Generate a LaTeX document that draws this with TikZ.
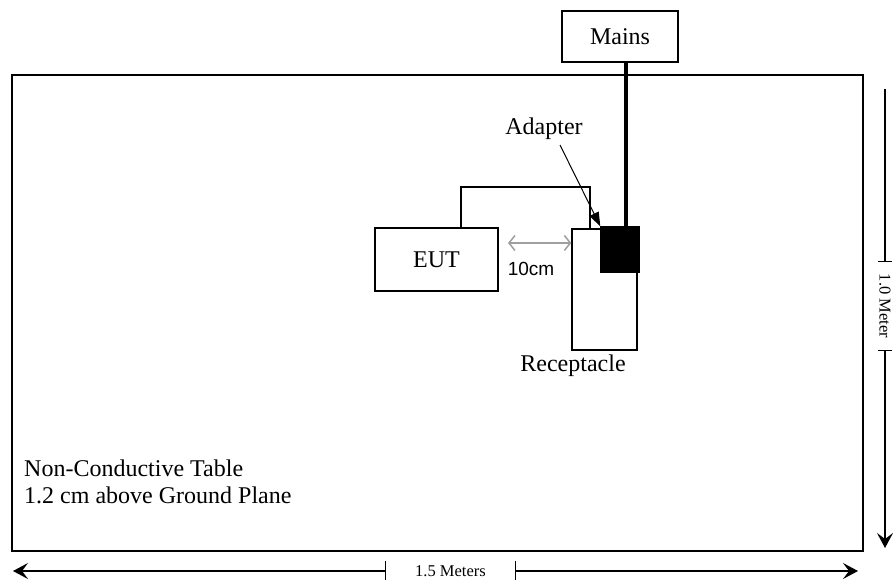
\documentclass[tikz,border=0pt]{standalone}
\usepackage{fontspec}
\setmainfont{Liberation Serif}
\newfontfamily\arialfont{Liberation Sans}
\usetikzlibrary{arrows.meta}
\begin{document}
\begin{tikzpicture}[x=1pt,y=-1pt,
  box/.style={draw,line width=1.4pt,rectangle,inner sep=0pt,font=\fontsize{24}{28}\selectfont},
  lbl/.style={inner sep=0pt,font=\fontsize{24}{27}\selectfont},
  dimlbl/.style={inner sep=0pt,font=\fontsize{16.5}{18}\selectfont},
  dimline/.style={line width=1.2pt},
  dimtip/.style={-{Stealth[length=15pt,width=16pt,inset=6pt]}}]
\useasboundingbox (0,0) rectangle (893,580);
% table and boxes
\node[box,line width=1.7pt,minimum width=851pt,minimum height=476pt] (table) at (437.5,313) {};
\node[box,minimum width=116pt,minimum height=51pt] (mains) at (620,36.5) {Mains};
\node[box,minimum width=123pt,minimum height=63pt] (eut) at (436.5,259.5) {EUT};
\node[box,minimum width=65pt,minimum height=121pt] (recept) at (604.5,289.5) {};
\node[box,fill=black,minimum width=38pt,minimum height=45pt] (adapter) at (620,249.5) {};
% cords
\draw[line width=3.5pt] ([xshift=6pt]adapter.north) -- ([xshift=6pt]adapter.north |- mains.south);
\coordinate (cordtop) at (590,187);
\draw[line width=1.5pt] ([xshift=24.5pt]eut.north) |- (cordtop) -- (cordtop |- recept.north);
% labels
\node[lbl] (adaptlbl) at (544,129) {Adapter};
\draw[line width=1pt,-{Triangle[length=14pt,width=10pt]}] (560,145) -- (adapter.north west);
\node[lbl] (receptlbl) at (573,366) {Receptacle};
\node[inner sep=0pt,font=\arialfont\fontsize{19}{21}\selectfont] (gap) at (531,269) {10cm};
\coordinate (gapL) at (508,243);
\draw[gray!75,line width=1.5pt,{Straight Barb[length=6pt,width=15pt]}-{Straight Barb[length=6pt,width=15pt]}] (gapL) -- (gapL -| recept.west);
\node[lbl,anchor=north west,align=left] (tablelbl) at (24,460) {Non-Conductive Table\\1.2 cm above Ground Plane};
% dimensions
\node[dimlbl,minimum width=129pt] (lenlbl) at (450.5,571) {1.5 Meters};
\coordinate (lenL) at (13,571);
\coordinate (lenR) at (858,571);
\draw[dimline,dimtip] (lenlbl.west) -- (lenL);
\draw[dimline,dimtip] (lenlbl.east) -- (lenR);
\draw[dimline] (lenlbl.west) +(0,-10) -- +(0,10);
\draw[dimline] (lenlbl.east) +(0,-10) -- +(0,10);
\node[dimlbl,rotate=-90,minimum width=88pt] (widlbl) at (885,306) {1.0 Meter};
\coordinate (widT) at (885,89);
\coordinate (widB) at (885,548);
\draw[dimline] (widlbl.west) -- (widT);
\draw[dimline,dimtip] (widlbl.east) -- (widB);
\draw[dimline] (widlbl.west) +(-7,0) -- +(7,0);
\draw[dimline] (widlbl.east) +(-7,0) -- +(7,0);
\end{tikzpicture}
\end{document}
